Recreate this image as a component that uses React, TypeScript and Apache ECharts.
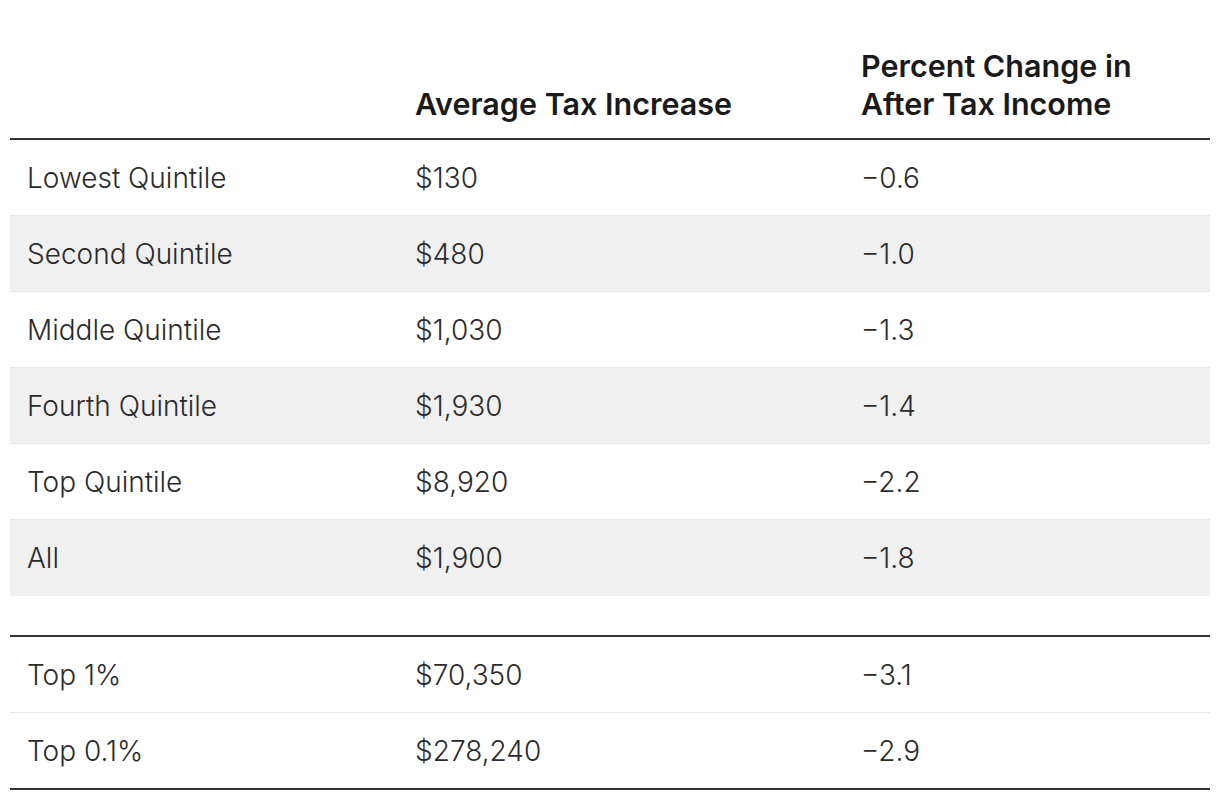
import React, { useEffect, useRef } from "react";
import * as echarts from "echarts";

const headers = ["", "Average Tax Increase", "Percent Change in\nAfter Tax Income"];
const categories = [
  "Lowest Quintile",
  "Second Quintile",
  "Middle Quintile",
  "Fourth Quintile",
  "Top Quintile",
  "All",
  "Top 1%",
  "Top 0.1%",
];
const avgTaxIncrease = [130, 480, 1030, 1930, 8920, 1900, 70350, 278240];
const pctChangeAfterTax = [-0.6, -1.0, -1.3, -1.4, -2.2, -1.8, -3.1, -2.9];
const rowGroup = [0, 0, 0, 0, 0, 0, 1, 1];

const FONT = "Inter, 'Noto Sans', sans-serif";
const LEFT = 10;
const RIGHT = 1210;
const COL_X = [27, 415, 861];
const ROW_H = 76;
const GROUP_TOP = [140, 637];

function fmtMoney(v: number) {
  return "$" + v.toLocaleString("en-US");
}
function fmtPct(v: number) {
  return (v < 0 ? "\u2212" : "") + Math.abs(v).toFixed(1);
}

export default function App() {
  const ref = useRef<HTMLDivElement>(null);
  useEffect(() => {
    document.body.style.margin = "0";
    const chart = echarts.init(ref.current!, undefined, { renderer: "svg" });
    const groupStart = [rowGroup.indexOf(0), rowGroup.indexOf(1)];
    const data = categories.map((c, i) => [i, c, avgTaxIncrease[i], pctChangeAfterTax[i], rowGroup[i]]);
    chart.setOption({
      animation: false,
      backgroundColor: "#ffffff",
      series: [
        {
          type: "custom",
          coordinateSystem: "none",
          data,
          renderItem: (params: any, api: any) => {
            const i = params.dataIndex;
            const g = rowGroup[i];
            const idxInGroup = i - groupStart[g];
            const top = GROUP_TOP[g] + idxInGroup * ROW_H;
            const lastInGroup = i === categories.length - 1 || rowGroup[i + 1] !== g;
            const striped = g === 0 && idxInGroup % 2 === 1;
            const cy = top + ROW_H / 2;
            const children: any[] = [];
            if (striped) {
              children.push({
                type: "rect",
                shape: { x: LEFT, y: top, width: RIGHT - LEFT, height: ROW_H },
                style: { fill: "#f0f0f0" },
              });
            }
            if (!lastInGroup) {
              children.push({
                type: "rect",
                shape: { x: LEFT, y: top + ROW_H - 1, width: RIGHT - LEFT, height: 1 },
                style: { fill: "#e6e6e6" },
              });
            }
            const texts = [categories[i], fmtMoney(avgTaxIncrease[i]), fmtPct(pctChangeAfterTax[i])];
            texts.forEach((t, k) => {
              children.push({
                type: "text",
                x: COL_X[k],
                y: cy,
                style: {
                  text: t,
                  fill: "#2b2b2b",
                  font: `300 28px ${FONT}`,
                  textAlign: "left",
                  textVerticalAlign: "middle",
                },
              });
            });
            return { type: "group", children };
          },
        },
      ],
      graphic: [
        {
          type: "text",
          x: COL_X[1],
          y: 103,
          style: {
            text: headers[1],
            fill: "#1a1a1a",
            font: `600 30.5px ${FONT}`,
            textAlign: "left",
            textVerticalAlign: "middle",
          },
        },
        {
          type: "text",
          x: COL_X[2],
          y: 84,
          style: {
            text: headers[2],
            fill: "#1a1a1a",
            font: `600 30.5px ${FONT}`,
            lineHeight: 38,
            textAlign: "left",
            textVerticalAlign: "middle",
          },
        },
        { type: "rect", shape: { x: LEFT, y: 138, width: RIGHT - LEFT, height: 2 }, style: { fill: "#333333" } },
        { type: "rect", shape: { x: LEFT, y: 635, width: RIGHT - LEFT, height: 2 }, style: { fill: "#333333" } },
        { type: "rect", shape: { x: LEFT, y: 788, width: RIGHT - LEFT, height: 2 }, style: { fill: "#333333" } },
      ],
    });
    return () => chart.dispose();
  }, []);
  return <div ref={ref} style={{ width: 1220, height: 800 }} />;
}
